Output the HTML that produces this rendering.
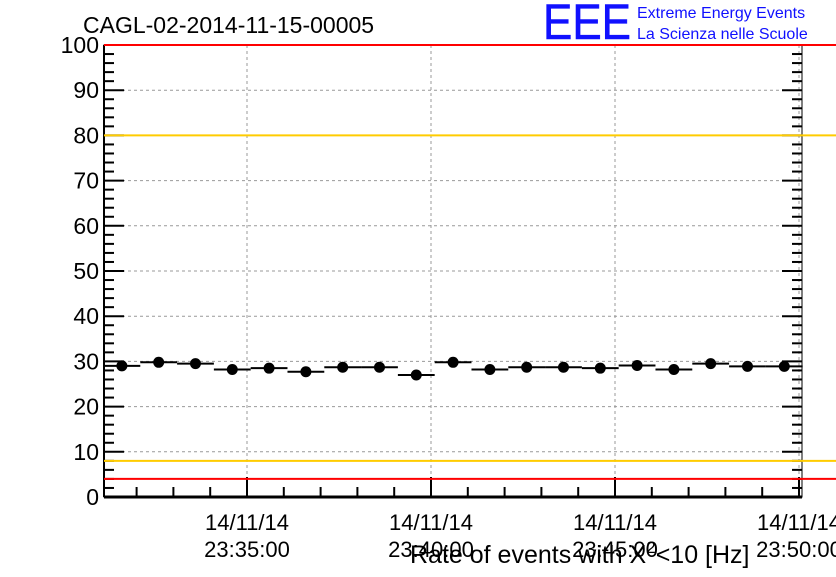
<!DOCTYPE html>
<html><head><meta charset="utf-8"><style>
body{margin:0;background:#fff;}
svg text{font-family:"Liberation Sans",sans-serif;}
</style></head><body>
<svg id="chart" width="836" height="572" viewBox="0 0 836 572" xmlns="http://www.w3.org/2000/svg">
<rect width="836" height="572" fill="#fff"/>
<text x="83" y="33" font-size="23">CAGL-02-2014-11-15-00005</text>
<text x="543" y="39" font-size="50" fill="#1010ff" stroke="#1010ff" stroke-width="0.6" textLength="88" lengthAdjust="spacingAndGlyphs">EEE</text>
<text x="637" y="18" font-size="16" fill="#1010ff">Extreme Energy Events</text>
<text x="637" y="39" font-size="16" fill="#1010ff">La Scienza nelle Scuole</text>
<g id="grid"></g><g id="axes"></g><g id="refs"></g><g id="marks"></g>
<text x="410" y="563" font-size="25">Rate of events with X<tspan dy="-10" font-size="17">2</tspan><tspan dy="10">&lt;10 [Hz]</tspan></text>
</svg>
<script>
const values=[29,29.8,29.5,28.2,28.5,27.7,28.7,28.7,27,29.8,28.2,28.7,28.7,28.5,29.1,28.2,29.5,28.9,28.9];
const binStart=[-3.9,-2.9,-1.9,-0.9,0.1,1.1,2.1,3.1,4.1,5.1,6.1,7.1,8.1,9.1,10.1,11.1,12.1,13.1,14.1];
const yTicks=[0,10,20,30,40,50,60,70,80,90,100];
const xTickMin=[0,5,10,15];
const xTickLabels=["23:35:00","23:40:00","23:45:00","23:50:00"];
const refLines=[{v:4,c:"#ff0000"},{v:8,c:"#ffcc00"},{v:80,c:"#ffcc00"},{v:100,c:"#ff0000"}];
const L=104,R=802,T=45,B=497;
const X=m=>247+m*36.8, Y=v=>B-(v/100)*(B-T);
const NS="http://www.w3.org/2000/svg";
function mk(p,t,a){const e=document.createElementNS(NS,t);for(const k in a)e.setAttribute(k,a[k]);document.getElementById(p).appendChild(e);return e;}
yTicks.forEach(v=>{if(v>0&&v<100){const g=mk("grid","line",{x1:L,x2:R,y1:Y(v),y2:Y(v),stroke:"#999","stroke-dasharray":"3,3"});

}
const t=mk("axes","text",{x:L-5,y:Y(v)+8,"text-anchor":"end","font-size":"23"});t.textContent=v;

});
xTickMin.forEach((m,i)=>{const g=mk("grid","line",{x1:X(m),x2:X(m),y1:T,y2:B,stroke:"#999","stroke-dasharray":"3,3"});


const a=mk("axes","text",{x:X(m),y:530,"text-anchor":"middle","font-size":"22"});a.textContent="14/11/14";


const b=mk("axes","text",{x:X(m),y:557,"text-anchor":"middle","font-size":"22"});b.textContent=xTickLabels[i];

});
mk("axes","rect",{x:L,y:T,width:R-L,height:B-T,fill:"none",stroke:"#000","stroke-width":"1"});
for(let v=0;v<=100;v+=2){const len=v%10==0?20:10;
mk("axes","line",{x1:L,x2:L+len,y1:Y(v),y2:Y(v),stroke:"#000","stroke-width":"2"});
mk("axes","line",{x1:R,x2:R-len,y1:Y(v),y2:Y(v),stroke:"#000","stroke-width":"2"});}
for(let m=-3;m<=15;m++){const len=m%5==0?20:10;
mk("axes","line",{x1:X(m),x2:X(m),y1:B,y2:B-len,stroke:"#000","stroke-width":"2"});}
mk("axes","line",{x1:L,x2:R,y1:B,y2:B,stroke:"#000","stroke-width":"3"});
mk("axes","line",{x1:L,x2:L,y1:T,y2:B,stroke:"#000","stroke-width":"2"});
refLines.forEach(r=>{const l=mk("refs","line",{x1:L,x2:R+34,y1:Y(r.v),y2:Y(r.v),stroke:r.c,"stroke-width":"2"});

});
values.forEach((v,i)=>{const x0=X(binStart[i]),x1=X(binStart[i]+1);
const h=mk("marks","line",{x1:x0,x2:x1,y1:Y(v),y2:Y(v),stroke:"#000","stroke-width":"2"});


const c=mk("marks","circle",{cx:(x0+x1)/2,cy:Y(v),r:5.5,fill:"#000"});

});
</script>
</body></html>
